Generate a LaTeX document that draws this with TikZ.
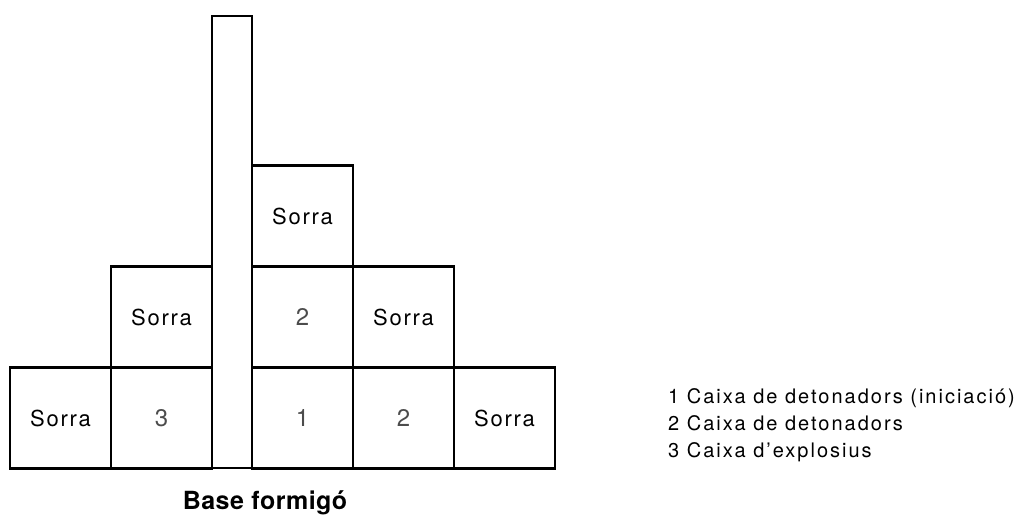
\documentclass[tikz,border=0pt]{standalone}
\usepackage{fontspec}
\setmainfont{TeX Gyre Heros}
\newfontfamily\widefont[LetterSpace=8]{TeX Gyre Heros}
\newfontfamily\legendfont[LetterSpace=10]{TeX Gyre Heros}
\newfontfamily\basefont[LetterSpace=2]{TeX Gyre Heros}
\usetikzlibrary{positioning}

\begin{document}
\begin{tikzpicture}[x=1pt, y=-1pt,
    cell/.style={draw, line width=2.2pt, minimum width=101pt, minimum height=101pt,
      inner sep=0pt, font=\widefont\fontsize{22}{26}\selectfont},
    num/.style={cell, text=black!70, font=\fontsize{24}{28}\selectfont},
    legend/.style={anchor=base west, inner sep=0pt, font=\legendfont\fontsize{20}{24}\selectfont}]
  \useasboundingbox (0,0) rectangle (1019,514);
  % Central pole
  \node[draw, line width=2.2pt, minimum width=40pt, minimum height=452pt, inner sep=0pt]
    (pole) at (232,242) {};
  % Bottom row
  \node[cell] (sandL) at (60.5,418) {Sorra};
  \node[num] (box3) at (161.5,418) {3};
  \node[num] (box1) at (302.5,418) {1};
  \node[num] (box2b) at (403.5,418) {2};
  \node[cell] (sandR) at (504.5,418) {Sorra};
  % Middle row
  \node[cell] (sandML) at (161.5,317) {Sorra};
  \node[num] (box2m) at (302.5,317) {2};
  \node[cell] (sandMR) at (403.5,317) {Sorra};
  % Top row
  \node[cell] (sandT) at (302.5,216) {Sorra};
  % Labels
  \node[anchor=base, inner sep=0pt, font=\basefont\fontsize{25}{29}\selectfont\bfseries]
    (base) at (265,509) {Base formigó};
  \node[legend] (leg1) at (668,403) {1 Caixa de detonadors (iniciació)};
  \node[legend] (leg2) at (668,430) {2 Caixa de detonadors};
  \node[legend] (leg3) at (668,457) {3 Caixa d’explosius};
\end{tikzpicture}
\end{document}
